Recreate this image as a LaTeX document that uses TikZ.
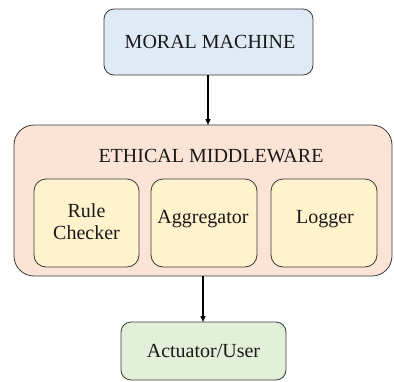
\documentclass[tikz,border=0pt]{standalone}
\usepackage{fontspec}
\setmainfont{Liberation Serif}
\usetikzlibrary{arrows.meta}
\definecolor{mmblue}{HTML}{DEEAF5}
\definecolor{mwpeach}{HTML}{FBE3D6}
\definecolor{modyellow}{HTML}{FFF2CC}
\definecolor{actgreen}{HTML}{E2F0D9}
\definecolor{edge}{HTML}{3A3A3A}
\tikzset{
  box/.style={draw=edge, line width=0.8pt},
  lbl/.style={font=\fontsize{20}{22}\selectfont, align=center, text=black!90},
  link/.style={-{Triangle[length=6pt,width=5pt]}, line width=1.4pt, black}
}
\begin{document}
\begin{tikzpicture}[x=1pt,y=-1pt]
\useasboundingbox (0,0) rectangle (394,381);
% top source block
\draw[box, fill=mmblue, rounded corners=10pt] (104,9) rectangle (313,75);
\node[lbl] (mm) at (210,42) {MORAL MACHINE};
\coordinate (mmb) at (208,75);
% middleware container
\draw[box, fill=mwpeach, rounded corners=20pt] (14,125) rectangle (392,276);
\node[lbl] (mwt) at (211,156) {ETHICAL MIDDLEWARE};
\coordinate (mwtop) at (208,125);
\coordinate (mwbot) at (203,276);
% modules
\draw[box, fill=modyellow, rounded corners=12pt] (34,179) rectangle (139,267);
\node[lbl] (rc) at (86.5,222) {Rule\\Checker};
\draw[box, fill=modyellow, rounded corners=12pt] (151,179) rectangle (257,267);
\node[lbl] (ag) at (203,219) {Aggregator};
\draw[box, fill=modyellow, rounded corners=12pt] (271,179) rectangle (377,267);
\node[lbl] (lg) at (325,219) {Logger};
% output block
\draw[box, fill=actgreen, rounded corners=10pt] (121,322) rectangle (286,380);
\node[lbl] (act) at (203.5,351) {Actuator/User};
\coordinate (acttop) at (203,322);
% connectors
\draw[link] (mmb) -- (mwtop);
\draw[link] (mwbot) -- (acttop);
\end{tikzpicture}
\end{document}
